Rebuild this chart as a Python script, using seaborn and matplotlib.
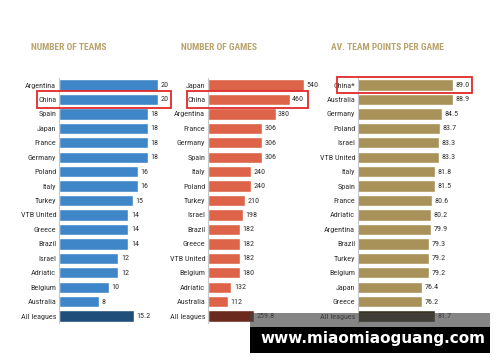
import numpy as np
import pandas as pd
import matplotlib
matplotlib.use("Agg")
import matplotlib.pyplot as plt
import matplotlib.transforms as mtransforms
from matplotlib.patches import Rectangle
from matplotlib import font_manager
import seaborn as sns

# data
teams_countries = ["Argentina", "China", "Spain", "Japan", "France", "Germany", "Poland", "Italy",
                   "Turkey", "VTB United", "Greece", "Brazil", "Israel", "Adriatic", "Belgium",
                   "Australia", "All leagues"]
teams_values = [20, 20, 18, 18, 18, 18, 16, 16, 15, 14, 14, 14, 12, 12, 10, 8, 15.2]

games_countries = ["Japan", "China", "Argentina", "France", "Germany", "Spain", "Italy", "Poland",
                   "Turkey", "Israel", "Brazil", "Greece", "VTB United", "Belgium", "Adriatic",
                   "Australia", "All leagues"]
games_values = [540, 460, 380, 306, 306, 306, 240, 240, 210, 198, 182, 182, 182, 180, 132, 112, 259.8]

points_countries = ["China*", "Australia", "Germany", "Poland", "Israel", "VTB United", "Italy", "Spain",
                    "France", "Adriatic", "Argentina", "Brazil", "Turkey", "Belgium", "Japan",
                    "Greece", "All leagues"]
points_values = [89.0, 88.9, 84.5, 83.7, 83.3, 83.3, 81.8, 81.5, 80.6, 80.2, 79.9, 79.3, 79.2, 79.2,
                 76.4, 76.2, 81.7]

titles = ["NUMBER OF TEAMS", "NUMBER OF GAMES", "AV. TEAM POINTS PER GAME"]

# pick a condensed face if one is installed
candidates = ["Roboto Condensed", "Barlow Condensed", "Archivo Narrow", "PT Sans Narrow",
              "Liberation Sans Narrow", "Fira Sans Condensed", "Open Sans Condensed",
              "IBM Plex Sans Condensed", "Encode Sans Condensed", "Saira Condensed"]
available = {f.name for f in font_manager.fontManager.ttflist}
narrow = next((c for c in candidates if c in available), "DejaVu Sans")

sns.set_style("white")
plt.rcParams["font.family"] = [narrow, "DejaVu Sans"]

W, H = 500, 362
fig = plt.figure(figsize=(5, 3.62), dpi=100)
fig.patch.set_facecolor("white")

title_color = "#b9a46e"
text_color = "#333333"
box_color = "#e02a2a"

panels = [
    dict(countries=teams_countries, values=teams_values, main="#3f86c8", total="#1f4e7a",
         left=59, xlim=(0, 22.2), fmt="{:g}", hl="China", box=(-0.2, 1.02), tx=31),
    dict(countries=games_countries, values=games_values, main="#dd6449", total="#6b2a1e",
         left=208, xlim=(0, 619), fmt="{:g}", hl="China", box=(-0.19, 0.91), tx=181),
    dict(countries=points_countries, values=points_values, main="#a8925a", total="#3a3220",
         left=358, xlim=(49.8, 95.3), fmt="{:.1f}", hl="China*", box=(-0.19, 1.04), tx=331),
]

row_top, row_bottom = 77.8, 323.3
ax_w = 110

for p, title in zip(panels, titles):
    df = pd.DataFrame({"country": p["countries"], "value": p["values"]})
    colors = [p["main"]] * (len(df) - 1) + [p["total"]]
    ax = fig.add_axes([p["left"] / W, (H - row_bottom) / H, ax_w / W, (row_bottom - row_top) / H])
    sns.barplot(data=df, x="value", y="country", hue="country", palette=colors,
                legend=False, width=0.78, ax=ax, saturation=1)
    ax.set_xlim(*p["xlim"])
    ax.set_ylim(len(df) - 0.5, -0.5)
    ax.set_xlabel("")
    ax.set_ylabel("")
    ax.set_xticks([])
    ax.tick_params(axis="y", length=0, pad=2, labelsize=5.9, labelcolor=text_color)
    for s in ["top", "right", "bottom"]:
        ax.spines[s].set_visible(False)
    ax.spines["left"].set_color("#c8c8c8")
    ax.spines["left"].set_linewidth(0.8)
    ax.set_facecolor("none")

    for i, v in enumerate(df["value"]):
        ax.annotate(p["fmt"].format(v), xy=(v, i), xytext=(1.8, 0), textcoords="offset points",
                    va="center", ha="left", fontsize=5.9, color=text_color)

    # red highlight box around China row
    row = p["countries"].index(p["hl"])
    trans = mtransforms.blended_transform_factory(ax.transAxes, ax.transData)
    x0, x1 = p["box"]
    ax.add_patch(Rectangle((x0, row - 0.58), x1 - x0, 1.16, transform=trans, fill=False,
                           edgecolor=box_color, linewidth=1.3, clip_on=False, zorder=5))

    fig.text(p["tx"] / W, 1 - 48 / H, title, color=title_color, fontsize=6.8,
             fontweight="bold", ha="left", va="center")

# watermark strip
fig.patches.append(Rectangle((250 / W, 1 - 327 / H), 240 / W, 14 / H, transform=fig.transFigure,
                             facecolor="#444444", alpha=0.65, edgecolor="none", zorder=10))
fig.patches.append(Rectangle((250 / W, 1 - 353 / H), 240 / W, 26 / H, transform=fig.transFigure,
                             facecolor="black", edgecolor="none", zorder=10))
fig.text(373 / W, 1 - 339 / H, "www.miaomiaoguang.com", color="white", fontsize=11,
         fontweight="bold", family="DejaVu Sans", ha="center", va="center", zorder=11)

fig.savefig("out.png", dpi=100)
